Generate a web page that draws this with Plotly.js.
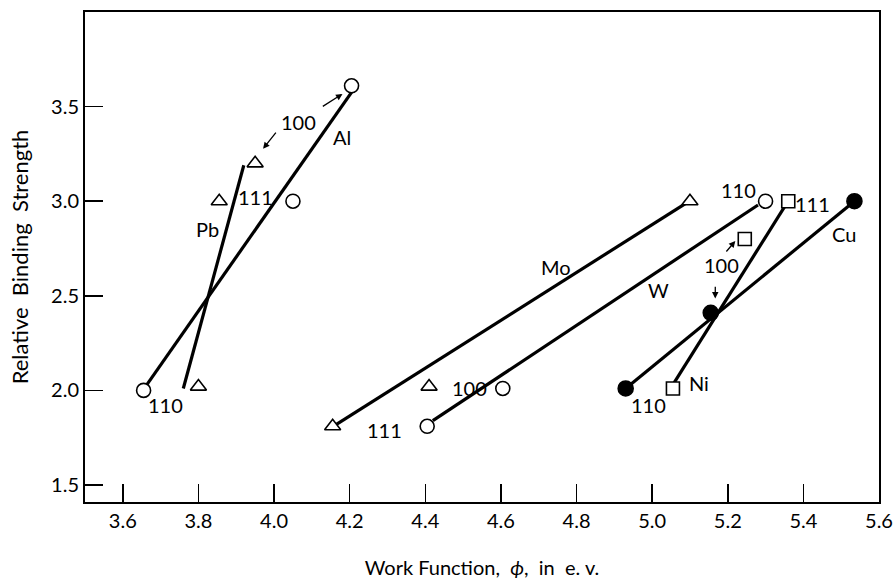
<!DOCTYPE html>
<html>
<head>
<meta charset="utf-8">
<script src="https://cdn.plot.ly/plotly-3.0.1.min.js"></script>
<style>html,body{margin:0;padding:0;background:#fff;}#chart{width:894px;height:582px;}</style>
</head>
<body>
<div id="chart"></div>
<script>
// Measured points (work function, relative binding strength)
const alX = [3.655, 4.05, 4.205];
const alY = [2.0, 3.0, 3.61];
const pbX = [3.80, 3.855, 3.95];
const pbY = [2.02, 3.0, 3.2];
const moX = [4.155, 4.41, 5.10];
const moY = [1.81, 2.02, 3.0];
const wX = [4.405, 4.605, 5.30];
const wY = [1.81, 2.01, 3.0];
const niX = [5.055, 5.245, 5.36];
const niY = [2.01, 2.80, 3.0];
const cuX = [4.93, 5.155, 5.535];
const cuY = [2.01, 2.41, 3.0];

// Fitted lines
const alFitX = [3.66, 4.21];
const alFitY = [2.02, 3.59];
const pbFitX = [3.76, 3.92];
const pbFitY = [2.01, 3.19];
const moFitX = [4.165, 5.09];
const moFitY = [1.82, 2.99];
const wFitX = [4.42, 5.28];
const wFitY = [1.84, 2.98];
const niFitX = [5.055, 5.35];
const niFitY = [2.03, 2.97];
const cuFitX = [4.93, 5.535];
const cuFitY = [2.01, 3.0];

const xTicks = [3.6, 3.8, 4.0, 4.2, 4.4, 4.6, 4.8, 5.0, 5.2, 5.4, 5.6];
const xTickText = ['3.6', '3.8', '4.0', '4.2', '4.4', '4.6', '4.8', '5.0', '5.2', '5.4', '5.6'];
const yTicks = [1.5, 2.0, 2.5, 3.0, 3.5];
const yTickText = ['1.5', '2.0', '2.5', '3.0', '3.5'];

const FONT = 'Lato, "DejaVu Sans", sans-serif';

function fit(x, y) {
  return {x: x, y: y, mode: 'lines', type: 'scatter', hoverinfo: 'skip',
          line: {color: '#000', width: 3.2}, showlegend: false};
}
function pts(x, y, symbol, fill, size) {
  return {x: x, y: y, mode: 'markers', type: 'scatter', showlegend: false,
          marker: {symbol: symbol, size: size, color: fill, line: {color: '#000', width: 1.6}}};
}

const traces = [
  fit(alFitX, alFitY), fit(pbFitX, pbFitY), fit(moFitX, moFitY),
  fit(wFitX, wFitY), fit(niFitX, niFitY), fit(cuFitX, cuFitY),
  pts(alX, alY, 'circle', '#fff', 14),
  pts(pbX, pbY, 'triangle-up', '#fff', 14),
  pts(moX, moY, 'triangle-up', '#fff', 14),
  pts(wX, wY, 'circle', '#fff', 14),
  pts(niX, niY, 'square', '#fff', 13),
  pts(cuX, cuY, 'circle', '#000', 15)
];

function lab(text, x, y) {
  return {text: text, x: x, y: y, xref: 'x', yref: 'y', showarrow: false,
          font: {family: FONT, size: 20, color: '#000'}};
}
function arr(x0, y0, x1, y1) {
  return {text: '', x: x1, y: y1, ax: x0, ay: y0, xref: 'x', yref: 'y', axref: 'x', ayref: 'y',
          showarrow: true, arrowhead: 2, arrowsize: 1, arrowwidth: 1.3, arrowcolor: '#000'};
}

const annotations = [
  lab('100', 4.065, 3.417), lab('Al', 4.181, 3.338), lab('111', 3.951, 3.022),
  lab('Pb', 3.825, 2.855), lab('110', 3.712, 1.923),
  arr(4.008, 3.37, 3.971, 3.277), arr(4.125, 3.496, 4.181, 3.567),
  lab('Mo', 4.747, 2.652), lab('W', 5.016, 2.53),
  lab('100', 4.517, 2.011), lab('111', 4.291, 1.791),
  lab('110', 5.229, 3.057), lab('111', 5.423, 2.987), lab('Cu', 5.507, 2.829),
  lab('100', 5.184, 2.661), arr(5.193, 2.726, 5.22, 2.79), arr(5.167, 2.556, 5.167, 2.486),
  lab('Ni', 5.123, 2.037), lab('110', 4.99, 1.923)
];

const layout = {
  width: 894, height: 582,
  margin: {l: 85, r: 15, t: 12, b: 80},
  paper_bgcolor: '#fff', plot_bgcolor: '#fff',
  showlegend: false,
  font: {family: FONT, color: '#000'},
  xaxis: {
    range: [3.5, 5.6], tickmode: 'array', tickvals: xTicks, ticktext: xTickText,
    ticks: 'inside', ticklen: 18, tickwidth: 1.5, tickcolor: '#000',
    showline: true, linecolor: '#000', linewidth: 2, mirror: true,
    showgrid: false, zeroline: false,
    tickfont: {family: FONT, size: 20, color: '#000'},
    title: {text: 'Work Function,  <i>\u03d5</i>,  in  e. v.', font: {family: FONT, size: 20, color: '#000'}, standoff: 30}
  },
  yaxis: {
    range: [1.41, 4.0], tickmode: 'array', tickvals: yTicks, ticktext: yTickText,
    ticks: 'inside', ticklen: 18, tickwidth: 1.5, tickcolor: '#000',
    showline: true, linecolor: '#000', linewidth: 2, mirror: true,
    showgrid: false, zeroline: false,
    tickfont: {family: FONT, size: 20, color: '#000'},
    title: {text: 'Relative  Binding  Strength', font: {family: FONT, size: 22, color: '#000'}, standoff: 16}
  },
  annotations: annotations
};

Plotly.newPlot('chart', traces, layout, {displayModeBar: false, staticPlot: true});
</script>
</body>
</html>
